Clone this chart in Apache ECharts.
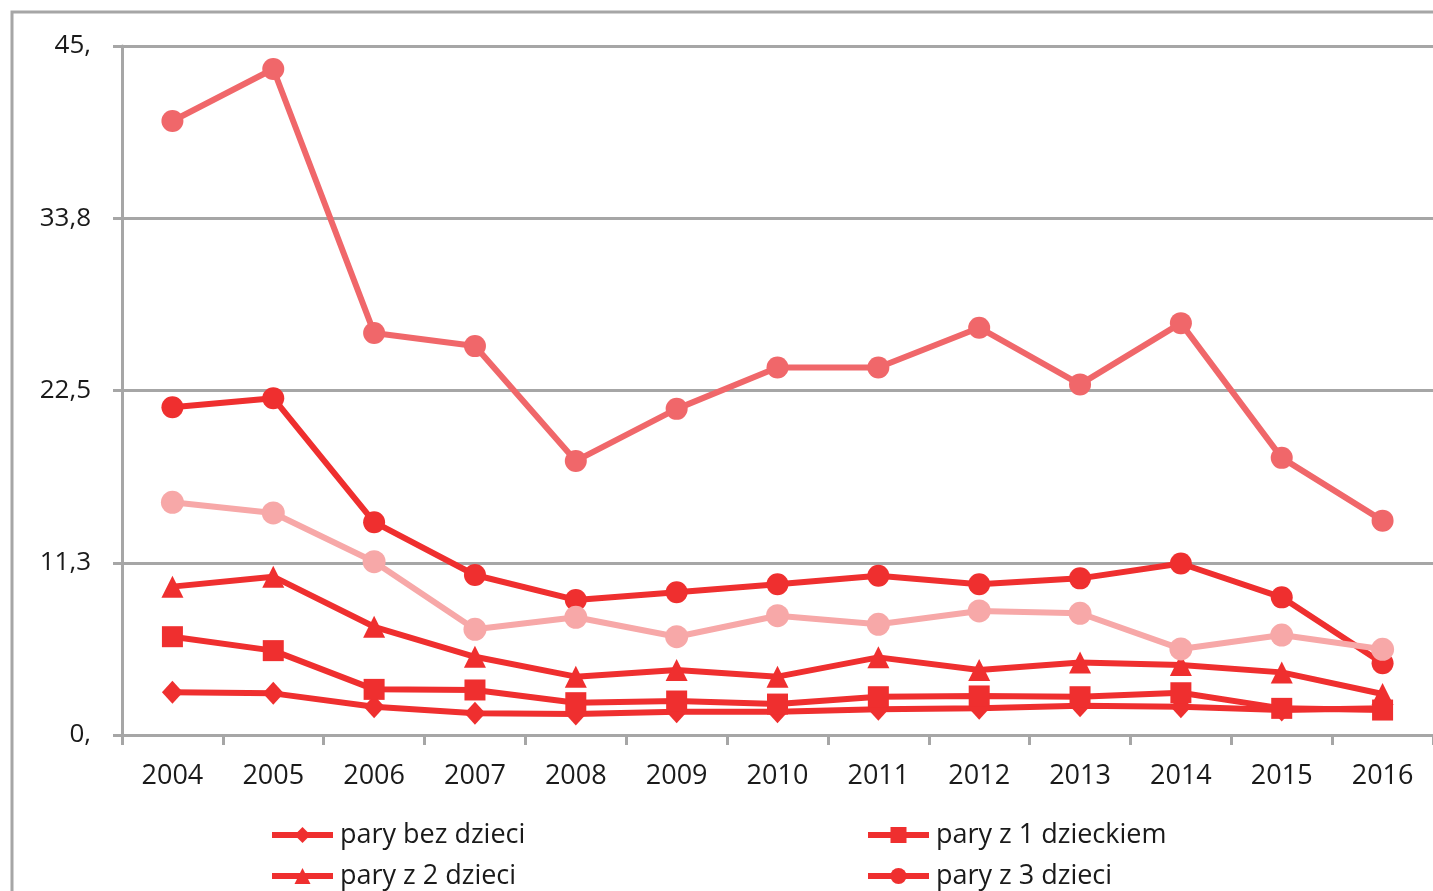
<!DOCTYPE html>
<html>
<head>
<meta charset="utf-8">
<script src="https://cdn.jsdelivr.net/npm/echarts@6/dist/echarts.min.js"></script>
<style>
html,body{margin:0;padding:0;background:#fff;}
#c{width:1433px;height:891px;}
</style>
</head>
<body>
<div id="c"></div>
<script>
const years = ['2004','2005','2006','2007','2008','2009','2010','2011','2012','2013','2014','2015','2016'];
const yTickLabels = ['0,', '11,3', '22,5', '33,8', '45,'];
const paryBezDzieci = [2.79, 2.72, 1.85, 1.42, 1.37, 1.52, 1.52, 1.68, 1.74, 1.91, 1.85, 1.63, 1.74];
const paryZ1 = [6.42, 5.51, 2.98, 2.94, 2.11, 2.22, 2.02, 2.5, 2.55, 2.5, 2.76, 1.74, 1.63];
const paryZ2 = [9.69, 10.34, 7.07, 5.11, 3.81, 4.25, 3.81, 5.07, 4.25, 4.74, 4.57, 4.09, 2.68];
const paryZ3 = [21.4, 22.0, 13.9, 10.45, 8.82, 9.32, 9.84, 10.4, 9.84, 10.23, 11.2, 8.99, 4.68];
const paryZ4 = [40.1, 43.5, 26.26, 25.4, 17.9, 21.3, 24.0, 24.0, 26.6, 22.9, 26.9, 18.1, 14.0];
const samotni = [15.2, 14.5, 11.32, 6.9, 7.69, 6.42, 7.79, 7.23, 8.1, 7.95, 5.62, 6.53, 5.6];
const seriesNames = ['pary bez dzieci', 'pary z 1 dzieckiem', 'pary z 2 dzieci', 'pary z 3 dzieci', 'pary z 4 i więcej dzieci', 'matki/ojcowie samotnie wychowujący dzieci'];

const RED = '#EF2F2F', SALMON = '#F0676A', PINK = '#F7A8A8', GRAY = '#A6A6A6';
const FONT = '"Open Sans", sans-serif';

function mk(name, data, color, symbol, size) {
  return {
    name: name, type: 'line', data: data,
    symbol: symbol, symbolSize: size,
    itemStyle: { color: color },
    lineStyle: { color: color, width: 6 },
    animation: false
  };
}

const legendPos = [[269, 820], [865, 820], [269, 861], [865, 861], [269, 902], [865, 902]];
const legends = seriesNames.map((n, i) => ({
  data: [n], left: legendPos[i][0], top: legendPos[i][1],
  itemWidth: 61, itemHeight: 20, itemGap: 0,
  lineStyle: { width: 6 },
  textStyle: { fontFamily: FONT, fontSize: 27, color: '#1a1a1a', lineHeight: 30, padding: [0, 0, 0, 2] },
  padding: 0
}));

const chart = echarts.init(document.getElementById('c'));
chart.setOption({
  backgroundColor: '#fff',
  animation: false,
  graphic: [{
    type: 'polyline', silent: true,
    shape: { points: [[12, 900], [12, 12], [1440, 12]] },
    style: { stroke: GRAY, lineWidth: 3, fill: null }
  }],
  legend: legends,
  grid: { left: 122, top: 46, width: 1313, height: 689, containLabel: false },
  xAxis: {
    type: 'category', data: years, boundaryGap: true,
    axisLine: { lineStyle: { color: GRAY, width: 3 } },
    axisTick: { show: true, alignWithLabel: false, length: 10, lineStyle: { color: GRAY, width: 3 } },
    axisLabel: { margin: 28, fontFamily: FONT, fontSize: 27, color: '#1a1a1a' }
  },
  yAxis: {
    type: 'value', min: 0, max: 45, interval: 11.25,
    axisLine: { show: true, lineStyle: { color: GRAY, width: 3 } },
    axisTick: { show: true, length: 9, lineStyle: { color: GRAY, width: 3 } },
    splitLine: { show: true, lineStyle: { color: GRAY, width: 3 } },
    axisLabel: {
      margin: 31, fontFamily: FONT, fontSize: 26, color: '#1a1a1a',
      formatter: function (v) { return yTickLabels[Math.round(v / 11.25)]; }
    }
  },
  series: [
    mk(seriesNames[0], paryBezDzieci, RED, 'diamond', [21, 23]),
    mk(seriesNames[1], paryZ1, RED, 'rect', 21),
    mk(seriesNames[2], paryZ2, RED, 'triangle', 22),
    mk(seriesNames[3], paryZ3, RED, 'circle', 22),
    mk(seriesNames[4], paryZ4, SALMON, 'circle', 22),
    mk(seriesNames[5], samotni, PINK, 'circle', 23)
  ]
});
</script>
</body>
</html>
